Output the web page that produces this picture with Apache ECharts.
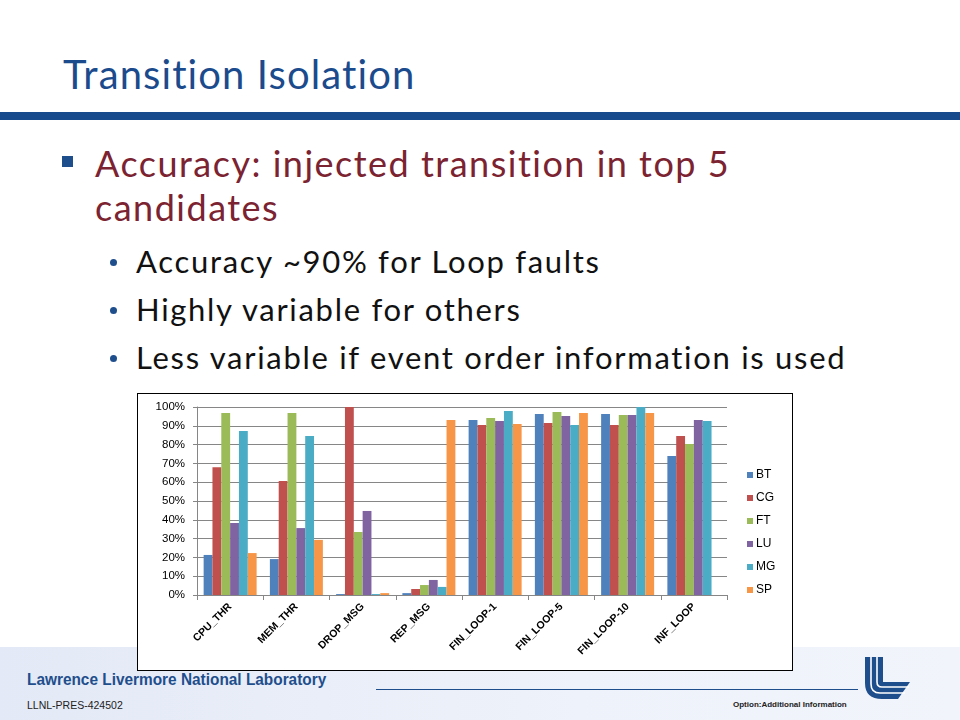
<!DOCTYPE html>
<html>
<head>
<meta charset="utf-8">
<script src="https://cdn.jsdelivr.net/npm/echarts@6/dist/echarts.min.js"></script>
<style>
  html, body { margin: 0; padding: 0; }
  body { width: 960px; height: 720px; position: relative; overflow: hidden; background: #ffffff; font-family: Lato, "Open Sans", sans-serif; font-variant-ligatures: none; }
  .abs { position: absolute; white-space: nowrap; }
  #footer { position: absolute; left: 0; top: 647px; width: 960px; height: 73px; background: linear-gradient(to right, #e3e9f6, #eef2fa 60%, #f1f4fb); }
  #bar { position: absolute; left: 0; top: 112px; width: 960px; height: 8px; background: #174a8c; }
  #title { left: 63px; top: 54px; font-size: 40px; line-height: 40px; letter-spacing: 1.1px; color: #1b4b8c; }
  .l1 { left: 95px; font-size: 36px; line-height: 36px; letter-spacing: 1.5px; color: #7b2331; }
  .l2 { left: 136px; font-size: 31px; line-height: 31px; letter-spacing: 1.7px; color: #111111; }
  .sq { position: absolute; left: 62px; top: 156px; width: 11px; height: 11px; background: #1f4e8c; }
  .dot { position: absolute; width: 7px; height: 7px; border-radius: 50%; background: #1f4e8c; left: 110px; }
  #chartBox { position: absolute; left: 137px; top: 393px; width: 656px; height: 278px; box-sizing: border-box; border: 1px solid #000; background: #fff; }
  #chart { width: 654px; height: 276px; }
  #lab { left: 27px; top: 670px; font-family: "Liberation Sans", Arial, sans-serif; font-weight: bold; font-size: 17px; line-height: 20px; color: #1f4e8c; transform: scaleX(0.905); transform-origin: 0 0; }
  #pres { left: 27px; top: 699px; font-family: "Liberation Sans", Arial, sans-serif; font-size: 10.5px; line-height: 12px; color: #222; }
  #opt { left: 733px; top: 700px; font-family: "Liberation Sans", Arial, sans-serif; font-weight: bold; font-size: 8px; line-height: 10px; color: #222; }
  #fline { position: absolute; left: 376px; top: 689px; width: 482px; height: 1px; background: #1f4e8c; }
</style>
</head>
<body>
<div id="footer"></div>
<div id="bar"></div>
<div class="abs" id="title">Transition Isolation</div>
<div class="sq"></div>
<div class="abs l1" style="top:145px;">Accuracy: injected transition in top 5</div>
<div class="abs l1" style="top:189px;">candidates</div>
<div class="dot" style="top:259px;"></div>
<div class="abs l2" style="top:246px;">Accuracy ~90% for Loop faults</div>
<div class="dot" style="top:307px;"></div>
<div class="abs l2" style="top:294px;">Highly variable for others</div>
<div class="dot" style="top:355px;"></div>
<div class="abs l2" style="top:342px;">Less variable if event order information is used</div>

<div id="chartBox"><div id="chart"></div></div>

<div class="abs" id="lab">Lawrence Livermore National Laboratory</div>
<div class="abs" id="pres">LLNL-PRES-424502</div>
<div id="fline"></div>
<div class="abs" id="opt">Option:Additional Information</div>
<svg class="abs" style="left:0;top:0;" width="960" height="720">
  <path d="M865,657 L883,657 L883,682 L910,682 L898,699 L882,699 Q865,699 865,683 Z" fill="#1f4e8c"/>
  <path d="M871,657 L871,684 Q871,693 880,693 L905,693" fill="none" stroke="#fff" stroke-width="1.6"/>
  <path d="M877,657 L877,682 Q877,687 882,687 L909,687" fill="none" stroke="#fff" stroke-width="1.6"/>
</svg>

<script>
const categories = ['CPU_THR', 'MEM_THR', 'DROP_MSG', 'REP_MSG', 'FIN_LOOP-1', 'FIN_LOOP-5', 'FIN_LOOP-10', 'INF_LOOP'];
const seriesNames = ['BT', 'CG', 'FT', 'LU', 'MG', 'SP'];
const BT = [21.3, 19.1, 0.5, 1.0, 93.1, 96.3, 96.3, 73.9];
const CG = [67.9, 60.6, 100, 3.2, 90.4, 91.5, 90.4, 84.6];
const FT = [96.8, 96.8, 33.5, 5.3, 94.1, 97.3, 95.7, 80.3];
const LU = [38.3, 35.6, 44.7, 8.0, 92.6, 95.2, 95.7, 93.1];
const MG = [87.2, 84.6, 0.5, 4.3, 97.9, 90.4, 100, 92.6];
const SP = [22.3, 29.3, 1.0, 93.1, 91.0, 96.8, 96.8, 0];
const yTicks = [0, 10, 20, 30, 40, 50, 60, 70, 80, 90, 100];
const colors = ['#4f81bd', '#c0504d', '#9bbb59', '#8064a2', '#4bacc6', '#f79646'];

const seriesData = [BT, CG, FT, LU, MG, SP];
const chart = echarts.init(document.getElementById('chart'), null, { renderer: 'canvas' });
const fontFam = '"Liberation Sans", Arial, sans-serif';
chart.setOption({
  animation: false,
  color: colors,
  grid: { left: 59, top: 13, width: 530, height: 188, containLabel: false },
  legend: {
    orient: 'vertical',
    left: 604,
    top: 69,
    itemWidth: 6,
    itemHeight: 6,
    itemGap: 9,
    icon: 'rect',
    data: seriesNames,
    textStyle: { fontFamily: fontFam, fontSize: 12, color: '#000', lineHeight: 14, padding: [0, 0, 0, -2] }
  },
  xAxis: {
    type: 'category',
    data: categories,
    axisLine: { lineStyle: { color: '#868686', width: 1 } },
    axisTick: { show: true, alignWithLabel: false, length: 5, lineStyle: { color: '#868686' } },
    axisLabel: { interval: 0, rotate: 45, margin: 10, fontFamily: fontFam, fontSize: 10.5, fontWeight: 'bold', color: '#000' }
  },
  yAxis: {
    type: 'value',
    min: yTicks[0],
    max: yTicks[yTicks.length - 1],
    interval: 10,
    axisLine: { show: true, lineStyle: { color: '#868686', width: 1 } },
    axisTick: { show: true, length: 4, lineStyle: { color: '#868686' } },
    splitLine: { show: true, lineStyle: { color: '#868686', width: 1 } },
    axisLabel: { margin: 12, fontFamily: fontFam, fontSize: 11.5, color: '#000', formatter: '{value}%' }
  },
  series: seriesNames.map((name, i) => ({
    name: name,
    type: 'bar',
    data: seriesData[i],
    barGap: '0%',
    barCategoryGap: '20%',
    itemStyle: { color: colors[i] }
  }))
});
</script>
</body>
</html>
